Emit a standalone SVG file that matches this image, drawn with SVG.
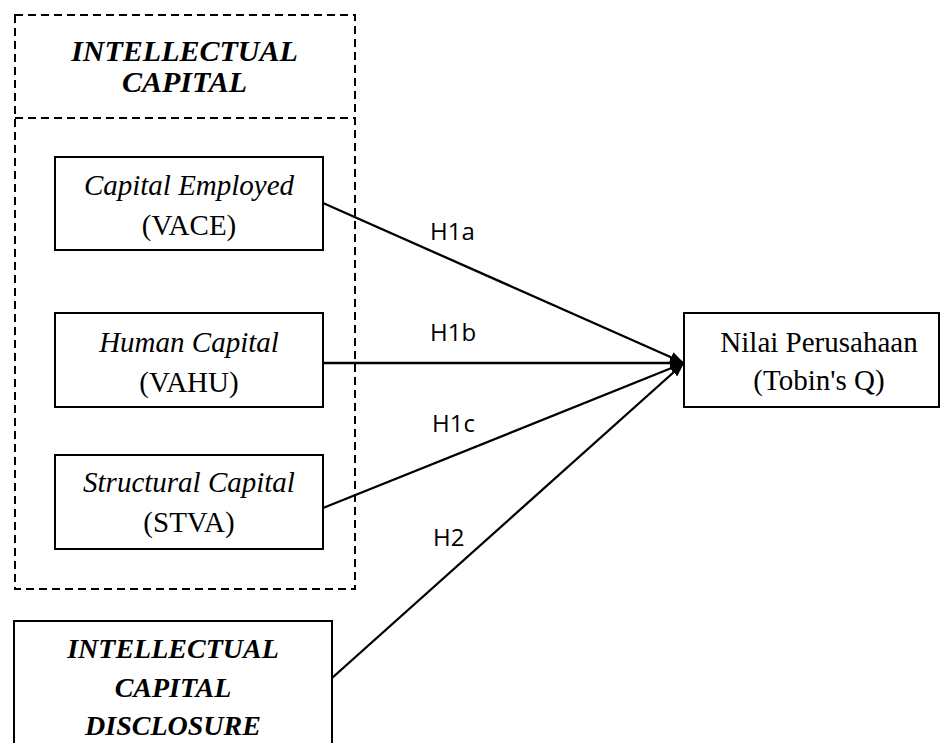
<svg xmlns="http://www.w3.org/2000/svg" width="941" height="743" viewBox="0 0 941 743">
<defs>
<marker id="arr" markerUnits="userSpaceOnUse" markerWidth="15" markerHeight="11" refX="14" refY="5.5" orient="auto">
<path d="M0,0 L14,5.5 L0,11 z" fill="#000"/>
</marker>
<style>
.box{fill:#fff;stroke:#000;stroke-width:2}
.dash{fill:none;stroke:#000;stroke-width:2;stroke-dasharray:8,5}
.conn{fill:none;stroke:#000;stroke-width:2.3;marker-end:url(#arr)}
.t{font-family:"Liberation Serif","Times New Roman",serif;font-size:29px;text-anchor:middle;fill:#000}
.it{font-style:italic}
.bi{font-style:italic;font-weight:bold}
.lbl{font-family:"Open Sans","Noto Sans",sans-serif;font-size:24px;fill:#000}
</style>
</defs>
<rect width="941" height="743" fill="#fff"/>
<g id="intellectual-capital">
<rect class="dash" x="15" y="15" width="340" height="574"/>
<line class="dash" x1="15" y1="118" x2="355" y2="118"/>
<text class="t bi" x="184.5" y="61" style="font-size:30px">INTELLECTUAL</text>
<text class="t bi" x="184.5" y="92" style="font-size:30px">CAPITAL</text>
</g>
<g id="vace">
<rect class="box" x="55" y="157" width="268" height="93"/>
<text class="t it" x="189" y="195">Capital Employed</text>
<text class="t" x="189" y="235">(VACE)</text>
</g>
<g id="vahu">
<rect class="box" x="55" y="313" width="268" height="94"/>
<text class="t it" x="189" y="352">Human Capital</text>
<text class="t" x="189" y="392">(VAHU)</text>
</g>
<g id="stva">
<rect class="box" x="55" y="455" width="268" height="94"/>
<text class="t it" x="189" y="492">Structural Capital</text>
<text class="t" x="189" y="532">(STVA)</text>
</g>
<g id="icd">
<rect class="box" x="14" y="621" width="318" height="140"/>
<text class="t bi" x="173" y="658" style="font-size:28px">INTELLECTUAL</text>
<text class="t bi" x="173" y="697" style="font-size:28px">CAPITAL</text>
<text class="t bi" x="173" y="735" style="font-size:28px">DISCLOSURE</text>
</g>
<g id="nilai">
<rect class="box" x="684" y="313" width="255" height="94"/>
<text class="t" x="819" y="352">Nilai Perusahaan</text>
<text class="t" x="819" y="390">(Tobin's Q)</text>
</g>
<g id="connectors">
<line class="conn" x1="323" y1="203" x2="684" y2="363"/>
<line class="conn" x1="323" y1="363" x2="684" y2="363"/>
<line class="conn" x1="323" y1="508" x2="684" y2="363"/>
<line class="conn" x1="332" y1="678" x2="684" y2="363"/>
<text class="lbl" x="430" y="240">H1a</text>
<text class="lbl" x="430" y="341">H1b</text>
<text class="lbl" x="432" y="432">H1c</text>
<text class="lbl" x="433" y="546">H2</text>
</g>
</svg>
